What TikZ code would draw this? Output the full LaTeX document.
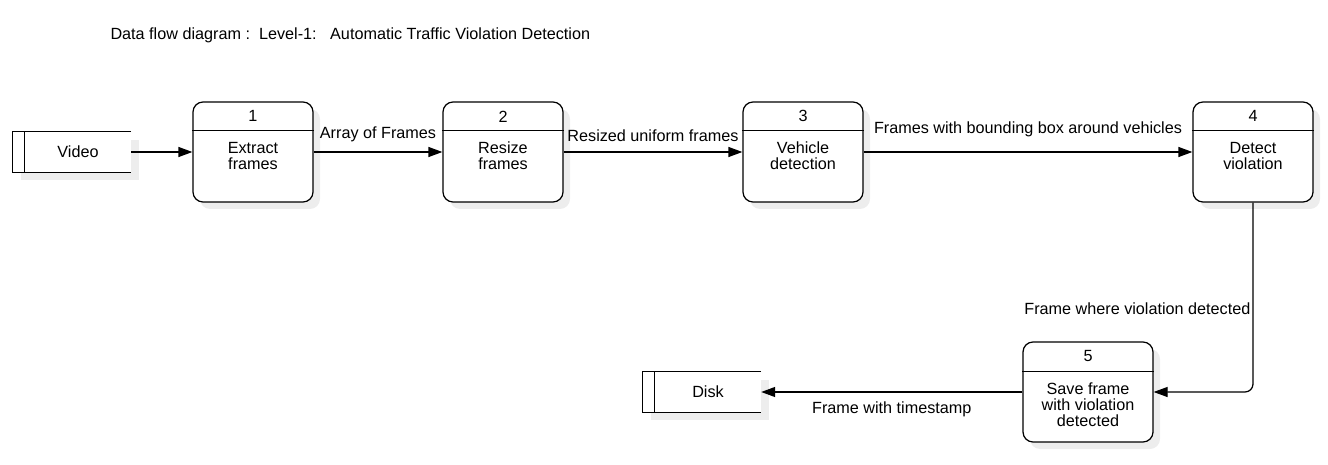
\documentclass[tikz,border=0pt]{standalone}
\usepackage{fontspec}
\setmainfont{Liberation Sans}
\usetikzlibrary{arrows.meta,shadows}

\begin{document}
\begin{tikzpicture}[
        x=1pt, y=-1pt,
        proc/.style={rectangle, draw, line width=1.25pt, rounded corners=10pt, minimum width=120pt, minimum height=100pt, fill=white,
            drop shadow={shadow xshift=7pt, shadow yshift=-7pt, fill=black!7, opacity=1}},
        store/.style={rectangle, minimum width=118pt, minimum height=40pt, inner sep=0pt, fill=white, font=\fontsize{16.2}{16}\selectfont,
            drop shadow={shadow xshift=8pt, shadow yshift=-8pt, fill=black!7, opacity=1}},
        txt/.style={align=center, font=\fontsize{16.2}{16}\selectfont},
        edge/.style={line width=1.25pt},
        arr/.style={-{Triangle[length=14pt, width=10pt]}, line width=1.25pt},
        lbl/.style={font=\fontsize{16.2}{16}\selectfont, inner sep=2pt}
    ]
    \useasboundingbox (0,0) rectangle (1328,465);

    % ---- TITLE ----
    \node[txt, anchor=west] (title) at (107,35) {Data flow diagram :\ \ Level-1:\ \ \ Automatic Traffic Violation Detection};

    % ---- STORES ----
    \node[store] (video) at (72,152) {\hspace*{12pt}Video};
    \draw[edge] (video.north east) -- (video.north west) -- (video.south west) -- (video.south east);
    \draw[edge] ([xshift=12pt]video.north west) -- ([xshift=12pt]video.south west);

    \node[store] (disk) at (702,392) {\hspace*{12pt}Disk};
    \draw[edge] (disk.north east) -- (disk.north west) -- (disk.south west) -- (disk.south east);
    \draw[edge] ([xshift=12pt]disk.north west) -- ([xshift=12pt]disk.south west);

    % ---- PROCESSES ----
    \node[proc] (p1) at (253,152) {};
    \draw[edge] ([yshift=-29pt]p1.north west) -- ([yshift=-29pt]p1.north east);
    \node[txt] (n1) at ([yshift=-15pt]p1.north) {1};
    \node[txt, anchor=north] (t1) at ([yshift=-37pt]p1.north) {Extract\\frames};

    \node[proc] (p2) at (503,152) {};
    \draw[edge] ([yshift=-29pt]p2.north west) -- ([yshift=-29pt]p2.north east);
    \node[txt] (n2) at ([yshift=-15pt]p2.north) {2};
    \node[txt, anchor=north] (t2) at ([yshift=-37pt]p2.north) {Resize\\frames};

    \node[proc] (p3) at (803,152) {};
    \draw[edge] ([yshift=-29pt]p3.north west) -- ([yshift=-29pt]p3.north east);
    \node[txt] (n3) at ([yshift=-15pt]p3.north) {3};
    \node[txt, anchor=north] (t3) at ([yshift=-37pt]p3.north) {Vehicle\\detection};

    \node[proc] (p4) at (1253,152) {};
    \draw[edge] ([yshift=-29pt]p4.north west) -- ([yshift=-29pt]p4.north east);
    \node[txt] (n4) at ([yshift=-15pt]p4.north) {4};
    \node[txt, anchor=north] (t4) at ([yshift=-37pt]p4.north) {Detect\\violation};

    \node[proc, minimum width=130pt] (p5) at (1088,392) {};
    \draw[edge] ([yshift=-30pt]p5.north west) -- ([yshift=-30pt]p5.north east);
    \node[txt] (n5) at ([yshift=-15pt]p5.north) {5};
    \node[txt, anchor=north] (t5) at ([yshift=-38pt]p5.north) {Save frame\\with violation\\detected};

    % ---- DATA FLOWS ----
    \draw[arr] (video) -- (p1);
    \draw[arr] (p1) -- node[lbl, above=8pt] {Array of Frames} (p2);
    \draw[arr] (p2) -- node[lbl, above=8pt] {Resized uniform frames} (p3);
    \draw[arr] (p3) -- node[lbl, above=13pt] {Frames with bounding box around vehicles} (p4);
    \draw[arr, rounded corners=8pt] (p4.south) |- node[lbl, left, pos=0.28] {Frame where violation detected} (p5.east);
    \draw[arr] (p5) -- node[lbl, below=7pt] {Frame with timestamp} (disk);

\end{tikzpicture}
\end{document}
